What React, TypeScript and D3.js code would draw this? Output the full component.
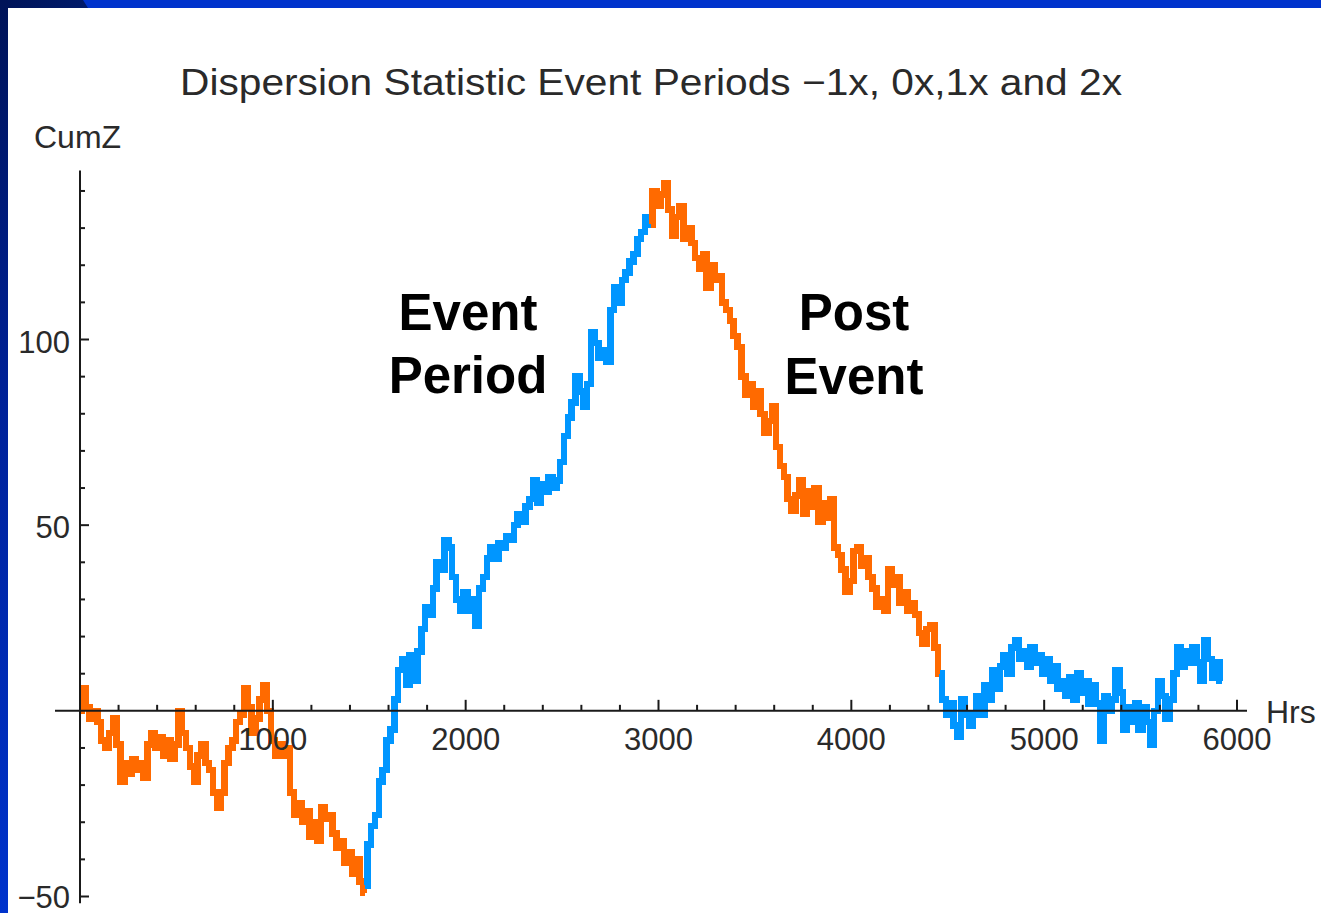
import * as d3 from "d3";

// CumZ sampled every 20 hrs, one array per period
const STEP_HRS = 20;
const periodMinus1 = [
  0, 6, 1, -2, 0, -3, -8, -10, -6, -2, -9, -19, -14, -17, -13, -16, -14, -18, -9, -6,
  -10, -7, -12, -8, -13, -9, 0, -6, -10, -15, -19, -12, -9, -14, -16, -22, -26, -22, -14, -10,
  -8, -3, -1, 6, 1, -6, -2, 3, 7, 0, -8, -12, -9, -12, -10, -22, -28, -25, -30, -27,
  -34, -30, -35, -26, -29, -28, -33, -37, -35, -41, -38, -44, -40, -46, -49,
];
const period0 = [
  -47, -36, -31, -28, -19, -16, -8, -5, 3, 11, 14, 7, 15, 8, 16, 22, 28, 26, 33, 40,
  38, 46, 44, 36, 30, 27, 32, 27, 30, 23, 33, 36, 41, 44, 41, 45, 44, 47, 46, 50,
  53, 51, 55, 57, 62, 56, 61, 59, 63, 60, 62, 67, 74, 79, 83, 90, 86, 82, 88, 102,
  99, 95, 97, 94, 108, 114, 110, 116, 118, 121, 123, 127, 129, 133, 131,
];
const period1 = [
  131, 140, 136, 139, 142, 135, 128, 133, 136, 127, 130, 126, 122, 119, 123, 114, 120, 116, 117, 110,
  108, 105, 101, 98, 90, 85, 88, 82, 86, 80, 75, 78, 82, 71, 66, 63, 57, 54, 58, 62,
  53, 59, 55, 60, 51, 56, 52, 57, 44, 42, 38, 32, 35, 43, 44, 39, 41, 36, 33, 28,
  30, 27, 38, 34, 36, 29, 32, 27, 29, 26, 21, 18, 22, 23, 17, 10,
];
const period2 = [
  10, 3, -1, 2, -4, -7, 3, -1, -4, -1, 4, -1, 7, 3, 11, 6, 12, 15, 10, 17,
  19, 14, 16, 12, 17, 13, 15, 10, 14, 8, 12, 6, 8, 4, 9, 3, 10, 5, 8, 2,
  7, 2, -8, 4, 0, 3, 11, 5, -5, 1, -3, 2, -5, 1, -3, -9, 0, 8, 4, -2,
  3, 10, 17, 12, 16, 13, 17, 13, 8, 19, 14, 9, 13, 8,
];
const periodStarts = [0, 1480, 2960, 4460];

const xTickLabels = [1000, 2000, 3000, 4000, 5000, 6000];
const yTickLabels = [-50, 50, 100];

const ORANGE = "#ff6a00";
const BLUE = "#0096ff";
const FONT = "'Liberation Sans', Arial, Helvetica, sans-serif";

export default function App() {
  const width = 1321;
  const height = 913;

  const x = d3.scaleLinear().domain([0, 6000]).range([80, 1237]);
  const y = d3.scaleLinear().domain([-50, 100]).range([896.5, 339.5]);

  const series = [periodMinus1, period0, period1, period2].map((vals, k) => {
    const start = periodStarts[k];
    const line = d3
      .line<number>()
      .x((_, i) => x(start + i * STEP_HRS))
      .y((v) => y(v))
      .curve(d3.curveStep);
    return { d: line(vals)!, color: k % 2 === 0 ? ORANGE : BLUE };
  });

  const xMinor = d3.range(200, 6001, 200);
  const yMinor = d3.range(-50, 141, 10).filter((v) => v !== 0);

  const axisColor = "#1a1a1a";
  const labelColor = "#2a2a2a";

  return (
    <svg
      width={width}
      height={height}
      style={{ position: "absolute", left: 0, top: 0, display: "block" }}
    >
      <defs>
        <linearGradient id="leftStrip" x1="0" y1="0" x2="0" y2="1">
          <stop offset="0" stopColor="#001458" />
          <stop offset="0.45" stopColor="#00229a" />
          <stop offset="1" stopColor="#0033cc" />
        </linearGradient>
        <linearGradient id="topStrip" x1="0" y1="0" x2="1" y2="0">
          <stop offset="0" stopColor="#001458" />
          <stop offset="1" stopColor="#001a6a" />
        </linearGradient>
      </defs>

      {/* slide frame */}
      <rect x={0} y={0} width={width} height={height} fill="#0033cc" />
      <polygon points="0,0 83,0 88,8 0,8" fill="url(#topStrip)" />
      <rect x={0} y={0} width={8} height={height} fill="url(#leftStrip)" />
      <rect x={8} y={8} width={width - 8} height={height - 8} fill="#ffffff" />

      {/* title */}
      <text
        x={180}
        y={95}
        fontFamily={FONT}
        fontSize={37}
        fill={labelColor}
        textLength={942}
        lengthAdjust="spacingAndGlyphs"
      >
        Dispersion Statistic Event Periods −1x, 0x,1x and 2x
      </text>

      {/* data */}
      {series.map((s, i) => (
        <path
          key={i}
          d={s.d}
          fill="none"
          stroke={s.color}
          strokeWidth={6.5}
          strokeLinejoin="miter"
          shapeRendering="crispEdges"
        />
      ))}

      {/* x axis */}
      <line x1={55} x2={1247} y1={y(0)} y2={y(0)} stroke={axisColor} strokeWidth={2} />
      {xMinor.map((t) => (
        <line
          key={t}
          x1={x(t)}
          x2={x(t)}
          y1={y(0)}
          y2={y(0) - (t % 1000 === 0 ? 11 : 6)}
          stroke={axisColor}
          strokeWidth={2}
        />
      ))}
      {xTickLabels.map((t) => (
        <text
          key={t}
          x={x(t)}
          y={y(0) + 39}
          textAnchor="middle"
          fontFamily={FONT}
          fontSize={31}
          fill={labelColor}
        >
          {t}
        </text>
      ))}
      <text x={1266} y={723} fontFamily={FONT} fontSize={32} fill={labelColor}>
        Hrs
      </text>

      {/* y axis */}
      <line x1={x(0)} x2={x(0)} y1={y(145.5)} y2={y(-51.8)} stroke={axisColor} strokeWidth={2} />
      {yMinor.map((t) => (
        <line
          key={t}
          x1={x(0)}
          x2={x(0) + (t % 50 === 0 ? 9 : 5)}
          y1={y(t)}
          y2={y(t)}
          stroke={axisColor}
          strokeWidth={2}
        />
      ))}
      {yTickLabels.map((t) => (
        <text
          key={t}
          x={70}
          y={t < 0 ? y(t) + 11 : y(t) + 13}
          textAnchor="end"
          fontFamily={FONT}
          fontSize={31}
          fill={labelColor}
        >
          {t < 0 ? `−${Math.abs(t)}` : t}
        </text>
      ))}
      <text x={34} y={148} fontFamily={FONT} fontSize={32} fill={labelColor}>
        CumZ
      </text>

      {/* annotations */}
      <g fontFamily={FONT} fontWeight="bold" fontSize={51} fill="#000" textAnchor="middle">
        <text x={468} y={330}>Event</text>
        <text x={468} y={393}>Period</text>
        <text x={854} y={330}>Post</text>
        <text x={854} y={394}>Event</text>
      </g>
    </svg>
  );
}
